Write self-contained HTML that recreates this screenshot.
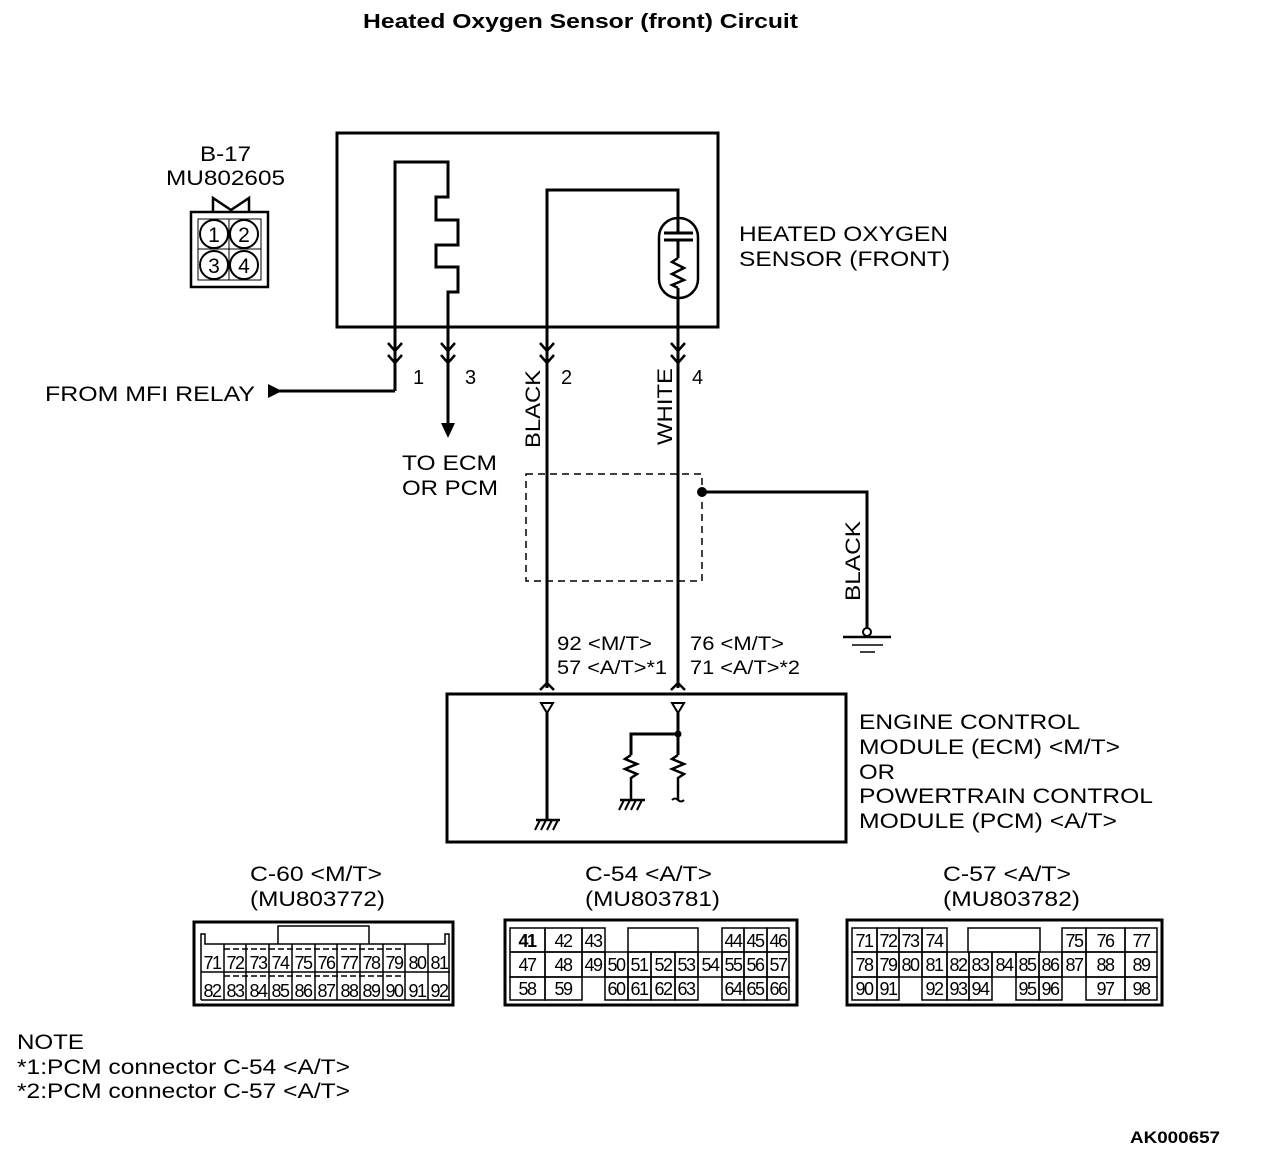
<!DOCTYPE html>
<html><head><meta charset="utf-8"><style>
html,body{margin:0;padding:0;background:#fff}
svg{display:block}
text{font-family:"Liberation Sans",Arial,sans-serif;fill:#000}
.c{font-size:18px;letter-spacing:-1.5px;text-anchor:middle}
</style></head><body>
<svg width="1264" height="1158" viewBox="0 0 1264 1158" xmlns="http://www.w3.org/2000/svg">
<g stroke="#000" fill="none" stroke-width="3">
<rect x="337" y="133" width="381" height="194" stroke-width="3"/>
<polyline points="395,391 395,162 448,162 448,197 436,197 436,220 458,220 458,245 436,245 436,267 458,267 458,292 448,292 448,425"/>
<polyline points="278,391 395,391"/>
<polyline points="547,688 547,190 678,190 678,232"/>
<line x1="678" y1="240" x2="678" y2="258"/>
<line x1="678" y1="288" x2="678" y2="688"/>
<polyline points="678,258 672,262 684,268 672,274 684,280 672,285 678,288" stroke-width="2.5"/>
<rect x="659" y="218" width="39" height="80" rx="19" stroke-width="2.5"/>
<line x1="664" y1="233" x2="693" y2="233"/>
<line x1="664" y1="240" x2="693" y2="240"/>
<g stroke-width="2.5">
<polyline points="388,343 395,351 402,343"/><polyline points="388,355 395,363 402,355"/>
<polyline points="441,343 448,351 455,343"/><polyline points="441,355 448,363 455,355"/>
<polyline points="540,343 547,351 554,343"/><polyline points="540,355 547,363 554,355"/>
<polyline points="671,343 678,351 685,343"/><polyline points="671,355 678,363 685,355"/>
</g>
<rect x="526" y="474" width="176" height="107" stroke-width="1.5" stroke-dasharray="7,5"/>
<polyline points="702,492 867,492 867,628"/>
<circle cx="867" cy="632" r="4" stroke-width="2"/>
<line x1="843" y1="637" x2="891" y2="637" stroke-width="2.5"/>
<line x1="852" y1="645" x2="883" y2="645" stroke-width="1.5"/>
<line x1="860" y1="652" x2="875" y2="652" stroke-width="1.5"/>
<rect x="447" y="694" width="399" height="148"/>
<polyline points="540,690 547,683 554,690" stroke-width="2.5"/>
<polyline points="671,690 678,683 685,690" stroke-width="2.5"/>
<polygon points="541,703 553,703 547,713" stroke-width="2"/>
<polygon points="672,703 684,703 678,713" stroke-width="2"/>
<line x1="547" y1="713" x2="547" y2="820"/>
<line x1="536" y1="820" x2="560" y2="820" stroke-width="2.5"/>
<g stroke-width="2"><line x1="540" y1="820" x2="535" y2="830"/><line x1="546" y1="820" x2="541" y2="830"/><line x1="552" y1="820" x2="547" y2="830"/><line x1="558" y1="820" x2="553" y2="830"/></g>
<line x1="678" y1="713" x2="678" y2="755"/>
<polyline points="678,734 631,734 631,755"/>
<polyline points="631,755 625,759 637,764 625,769 637,774 631,778 631,800" stroke-width="2.5"/>
<polyline points="678,755 672,759 684,764 672,769 684,774 678,778 678,800" stroke-width="2.5"/>
<path d="M672,800 Q675,797 678,800 Q681,803 684,800" stroke-width="2"/>
<line x1="620" y1="800" x2="645" y2="800" stroke-width="2.5"/>
<g stroke-width="2"><line x1="624" y1="800" x2="619" y2="810"/><line x1="630" y1="800" x2="625" y2="810"/><line x1="636" y1="800" x2="631" y2="810"/><line x1="642" y1="800" x2="637" y2="810"/></g>
<rect x="191" y="212" width="77" height="75" stroke-width="2.5"/>
<polyline points="213,212 213,198 231,210 249,198 249,212" stroke-width="2.5"/>
<rect x="198" y="219" width="63" height="61" stroke-width="1"/>
<line x1="229" y1="219" x2="229" y2="280" stroke-width="1"/>
<line x1="198" y1="249" x2="261" y2="249" stroke-width="1"/>
<g stroke-width="2"><circle cx="214" cy="234" r="14"/><circle cx="244" cy="234" r="14"/><circle cx="214" cy="265" r="14"/><circle cx="244" cy="265" r="14"/></g>
</g>
<g fill="#000">
<polygon points="268,384 268,398 282,391"/>
<polygon points="441,423 455,423 448,438"/>
<circle cx="702" cy="492" r="5"/>
<circle cx="678" cy="734" r="3.5"/>
</g>
<text x="363" y="28" font-size="20" font-weight="bold" textLength="435" lengthAdjust="spacingAndGlyphs">Heated Oxygen Sensor (front) Circuit</text>
<g font-size="21">
<text x="200" y="161" textLength="51" lengthAdjust="spacingAndGlyphs">B-17</text>
<text x="166" y="185" textLength="119" lengthAdjust="spacingAndGlyphs">MU802605</text>
<text x="214" y="242" text-anchor="middle" font-size="21">1</text><text x="244" y="242" text-anchor="middle" font-size="21">2</text>
<text x="214" y="273" text-anchor="middle" font-size="21">3</text><text x="244" y="273" text-anchor="middle" font-size="21">4</text>
<text x="739" y="241" textLength="209" lengthAdjust="spacingAndGlyphs">HEATED OXYGEN</text>
<text x="739" y="266" textLength="211" lengthAdjust="spacingAndGlyphs">SENSOR (FRONT)</text>
<text x="45" y="401" textLength="210" lengthAdjust="spacingAndGlyphs">FROM MFI RELAY</text>
<text x="413" y="384" font-size="20">1</text>
<text x="465" y="384" font-size="20">3</text>
<text x="561" y="384" font-size="20">2</text>
<text x="692" y="384" font-size="20">4</text>
<text transform="translate(540,448) rotate(-90)" font-size="21" textLength="78" lengthAdjust="spacingAndGlyphs">BLACK</text>
<text transform="translate(672,445) rotate(-90)" font-size="21" textLength="77" lengthAdjust="spacingAndGlyphs">WHITE</text>
<text transform="translate(860,601) rotate(-90)" font-size="21" textLength="80" lengthAdjust="spacingAndGlyphs">BLACK</text>
<text x="402" y="470" textLength="95" lengthAdjust="spacingAndGlyphs">TO ECM</text>
<text x="402" y="495" textLength="96" lengthAdjust="spacingAndGlyphs">OR PCM</text>
<text x="557" y="650" font-size="19" textLength="95" lengthAdjust="spacingAndGlyphs">92 &lt;M/T&gt;</text>
<text x="557" y="674" font-size="19" textLength="110" lengthAdjust="spacingAndGlyphs">57 &lt;A/T&gt;*1</text>
<text x="690" y="650" font-size="19" textLength="94" lengthAdjust="spacingAndGlyphs">76 &lt;M/T&gt;</text>
<text x="690" y="674" font-size="19" textLength="110" lengthAdjust="spacingAndGlyphs">71 &lt;A/T&gt;*2</text>
<text x="859" y="729" textLength="221" lengthAdjust="spacingAndGlyphs">ENGINE CONTROL</text>
<text x="859" y="754" textLength="261" lengthAdjust="spacingAndGlyphs">MODULE (ECM) &lt;M/T&gt;</text>
<text x="859" y="779" textLength="36" lengthAdjust="spacingAndGlyphs">OR</text>
<text x="859" y="803" textLength="294" lengthAdjust="spacingAndGlyphs">POWERTRAIN CONTROL</text>
<text x="859" y="828" textLength="258" lengthAdjust="spacingAndGlyphs">MODULE (PCM) &lt;A/T&gt;</text>
<text x="250" y="881" textLength="132" lengthAdjust="spacingAndGlyphs">C-60 &lt;M/T&gt;</text>
<text x="250" y="906" textLength="135" lengthAdjust="spacingAndGlyphs">(MU803772)</text>
<text x="585" y="881" textLength="127" lengthAdjust="spacingAndGlyphs">C-54 &lt;A/T&gt;</text>
<text x="585" y="906" textLength="135" lengthAdjust="spacingAndGlyphs">(MU803781)</text>
<text x="943" y="881" textLength="128" lengthAdjust="spacingAndGlyphs">C-57 &lt;A/T&gt;</text>
<text x="943" y="906" textLength="137" lengthAdjust="spacingAndGlyphs">(MU803782)</text>
<text x="17" y="1049" textLength="67" lengthAdjust="spacingAndGlyphs">NOTE</text>
<text x="17" y="1074" textLength="333" lengthAdjust="spacingAndGlyphs">*1:PCM connector C-54 &lt;A/T&gt;</text>
<text x="17" y="1098" textLength="333" lengthAdjust="spacingAndGlyphs">*2:PCM connector C-57 &lt;A/T&gt;</text>
</g>
<text x="1130" y="1143" font-size="17" font-weight="bold" textLength="90" lengthAdjust="spacingAndGlyphs">AK000657</text>

<g stroke="#000" fill="none">
<rect x="194" y="922" width="259" height="83" stroke-width="3"/>
<polyline points="201,1000 201,934 205,934 205,944 445,944 445,934 449,934 449,1000" stroke-width="1.5"/>
<polyline points="278,944 278,926 369,926 369,944" stroke-width="1.5"/>
<line x1="201" y1="972" x2="450" y2="972" stroke-width="1.5"/>
<line x1="201" y1="1000" x2="450" y2="1000" stroke-width="1.5"/>
<g stroke-width="1.5">
<line x1="224" y1="944" x2="224" y2="1000"/><line x1="246" y1="944" x2="246" y2="1000"/><line x1="269" y1="944" x2="269" y2="1000"/><line x1="292" y1="944" x2="292" y2="1000"/><line x1="315" y1="944" x2="315" y2="1000"/><line x1="337" y1="944" x2="337" y2="1000"/><line x1="360" y1="944" x2="360" y2="1000"/><line x1="383" y1="944" x2="383" y2="1000"/><line x1="405" y1="944" x2="405" y2="1000"/><line x1="428" y1="944" x2="428" y2="1000"/>
</g>
<line x1="224" y1="949" x2="405" y2="949" stroke-width="1.5" stroke-dasharray="6,3"/>
<line x1="224" y1="976" x2="405" y2="976" stroke-width="1.5" stroke-dasharray="6,3"/>
</g>
<g>
<text class="c" x="212" y="969">71</text><text class="c" x="235" y="969">72</text><text class="c" x="258" y="969">73</text><text class="c" x="280" y="969">74</text><text class="c" x="303" y="969">75</text><text class="c" x="326" y="969">76</text><text class="c" x="349" y="969">77</text><text class="c" x="371" y="969">78</text><text class="c" x="394" y="969">79</text><text class="c" x="417" y="969">80</text><text class="c" x="439" y="969">81</text>
<text class="c" x="212" y="997">82</text><text class="c" x="235" y="997">83</text><text class="c" x="258" y="997">84</text><text class="c" x="280" y="997">85</text><text class="c" x="303" y="997">86</text><text class="c" x="326" y="997">87</text><text class="c" x="349" y="997">88</text><text class="c" x="371" y="997">89</text><text class="c" x="394" y="997">90</text><text class="c" x="417" y="997">91</text><text class="c" x="439" y="997">92</text>
</g>

<g stroke="#000" fill="none" stroke-width="1.5">
<rect x="505" y="920" width="292" height="85" stroke-width="3"/>
<rect x="510" y="928" width="35" height="24"/><rect x="545" y="928" width="37" height="24"/><rect x="582" y="928" width="23" height="24"/>
<rect x="628" y="928" width="70" height="24"/>
<rect x="722" y="928" width="22" height="24"/><rect x="744" y="928" width="23" height="24"/><rect x="767" y="928" width="22" height="24"/>
<rect x="510" y="952" width="35" height="25"/><rect x="545" y="952" width="37" height="25"/><rect x="582" y="952" width="23" height="25"/><rect x="605" y="952" width="23" height="25"/><rect x="628" y="952" width="23" height="25"/><rect x="651" y="952" width="24" height="25"/><rect x="675" y="952" width="23" height="25"/><rect x="698" y="952" width="24" height="25"/><rect x="722" y="952" width="22" height="25"/><rect x="744" y="952" width="23" height="25"/><rect x="767" y="952" width="22" height="25"/>
<rect x="510" y="977" width="35" height="23"/><rect x="545" y="977" width="37" height="23"/>
<rect x="605" y="977" width="23" height="23"/><rect x="628" y="977" width="23" height="23"/><rect x="651" y="977" width="24" height="23"/><rect x="675" y="977" width="23" height="23"/>
<rect x="722" y="977" width="22" height="23"/><rect x="744" y="977" width="23" height="23"/><rect x="767" y="977" width="22" height="23"/>
</g>
<g>
<text class="c" x="527" y="947" font-weight="bold">41</text><text class="c" x="563" y="947">42</text><text class="c" x="593" y="947">43</text>
<text class="c" x="733" y="947">44</text><text class="c" x="755" y="947">45</text><text class="c" x="778" y="947">46</text>
<text class="c" x="527" y="971">47</text><text class="c" x="563" y="971">48</text><text class="c" x="593" y="971">49</text><text class="c" x="616" y="971">50</text><text class="c" x="639" y="971">51</text><text class="c" x="663" y="971">52</text><text class="c" x="686" y="971">53</text><text class="c" x="710" y="971">54</text><text class="c" x="733" y="971">55</text><text class="c" x="755" y="971">56</text><text class="c" x="778" y="971">57</text>
<text class="c" x="527" y="995">58</text><text class="c" x="563" y="995">59</text>
<text class="c" x="616" y="995">60</text><text class="c" x="639" y="995">61</text><text class="c" x="663" y="995">62</text><text class="c" x="686" y="995">63</text>
<text class="c" x="733" y="995">64</text><text class="c" x="755" y="995">65</text><text class="c" x="778" y="995">66</text>
</g>

<g stroke="#000" fill="none" stroke-width="1.5">
<rect x="847" y="920" width="315" height="85" stroke-width="3"/>
<rect x="852" y="928" width="25" height="24"/><rect x="877" y="928" width="22" height="24"/><rect x="899" y="928" width="23" height="24"/><rect x="922" y="928" width="25" height="24"/>
<rect x="968" y="928" width="72" height="24"/>
<rect x="1062" y="928" width="24" height="24"/><rect x="1086" y="928" width="39" height="24"/><rect x="1125" y="928" width="32" height="24"/>
<rect x="852" y="952" width="25" height="25"/><rect x="877" y="952" width="22" height="25"/><rect x="899" y="952" width="23" height="25"/><rect x="922" y="952" width="25" height="25"/><rect x="947" y="952" width="22" height="25"/><rect x="969" y="952" width="23" height="25"/><rect x="992" y="952" width="24" height="25"/><rect x="1016" y="952" width="23" height="25"/><rect x="1039" y="952" width="23" height="25"/><rect x="1062" y="952" width="24" height="25"/><rect x="1086" y="952" width="39" height="25"/><rect x="1125" y="952" width="32" height="25"/>
<rect x="852" y="977" width="25" height="23"/><rect x="877" y="977" width="22" height="23"/>
<rect x="922" y="977" width="25" height="23"/><rect x="947" y="977" width="22" height="23"/><rect x="969" y="977" width="23" height="23"/>
<rect x="1016" y="977" width="23" height="23"/><rect x="1039" y="977" width="23" height="23"/>
<rect x="1086" y="977" width="39" height="23"/><rect x="1125" y="977" width="32" height="23"/>
</g>
<g>
<text class="c" x="864" y="947">71</text><text class="c" x="888" y="947">72</text><text class="c" x="910" y="947">73</text><text class="c" x="934" y="947">74</text>
<text class="c" x="1074" y="947">75</text><text class="c" x="1105" y="947">76</text><text class="c" x="1141" y="947">77</text>
<text class="c" x="864" y="971">78</text><text class="c" x="888" y="971">79</text><text class="c" x="910" y="971">80</text><text class="c" x="934" y="971">81</text><text class="c" x="958" y="971">82</text><text class="c" x="980" y="971">83</text><text class="c" x="1004" y="971">84</text><text class="c" x="1027" y="971">85</text><text class="c" x="1050" y="971">86</text><text class="c" x="1074" y="971">87</text><text class="c" x="1105" y="971">88</text><text class="c" x="1141" y="971">89</text>
<text class="c" x="864" y="995">90</text><text class="c" x="888" y="995">91</text>
<text class="c" x="934" y="995">92</text><text class="c" x="958" y="995">93</text><text class="c" x="980" y="995">94</text>
<text class="c" x="1027" y="995">95</text><text class="c" x="1050" y="995">96</text>
<text class="c" x="1105" y="995">97</text><text class="c" x="1141" y="995">98</text>
</g>
</svg>
</body></html>
